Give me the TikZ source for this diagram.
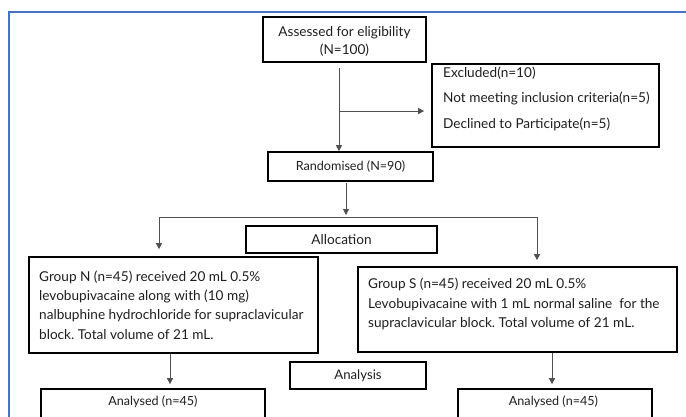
\documentclass[tikz,border=0pt]{standalone}
\usepackage{fontspec}
\setmainfont{Lato}
\frenchspacing
\usetikzlibrary{arrows.meta}
\definecolor{frameblue}{RGB}{68,114,196}
\definecolor{linegray}{RGB}{80,80,80}
\definecolor{textgray}{RGB}{30,30,30}
\begin{document}
\begin{tikzpicture}[x=1pt,y=-1pt,
  box/.style={draw=black, line width=1.7pt, rectangle, inner sep=0pt},
  txt/.style={font=\fontsize{13.6}{19.4}\selectfont, text=textgray, inner sep=0pt},
  stxt/.style={font=\fontsize{12.6}{16}\selectfont, text=textgray, inner sep=0pt},
  conn/.style={draw=linegray, line width=0.8pt},
  arr/.style={conn, -{Triangle[length=6pt,width=6pt]}},
]
\useasboundingbox (0,0) rectangle (686,416);
\clip (0,0) rectangle (686,416);

% frame
\draw[frameblue, line width=1.5pt] (9,440) -- (9,12) -- (700,12);

% boxes
\node[box, minimum width=163pt, minimum height=45pt] (assess) at (344.5,39.5) {};
\node[txt, align=center, font=\fontsize{13.6}{18}\selectfont] (assesst) at (344.5,41) {Assessed for eligibility\\(N=100)};

\node[box, minimum width=227pt, minimum height=83pt] (excl) at (545.5,105.5) {};
\node[txt, align=left, anchor=west, font=\fontsize{13.6}{25.5}\selectfont] (exclt) at (443,98.5) {Excluded(n=10)\\Not meeting inclusion criteria(n=5)\\Declined to Participate(n=5)};

\node[box, stxt, minimum width=165pt, minimum height=29pt] (rand) at (350.5,166.5) {Randomised (N=90)};

\node[box, txt, minimum width=191pt, minimum height=27pt] (alloc) at (341.5,239.5) {Allocation};

\node[box, minimum width=289pt, minimum height=96pt] (grpn) at (173.5,305) {};
\node[txt, align=left, anchor=west] (grpnt) at (39,305) {Group N (n=45) received 20 mL 0.5\%\\levobupivacaine along with (10 mg)\\nalbuphine hydrochloride for supraclavicular\\block. Total volume of 21 mL.};

\node[box, minimum width=319pt, minimum height=85pt] (grps) at (517.5,309.5) {};
\node[txt, align=left, anchor=west] (grpst) at (368,304) {Group S (n=45) received 20 mL 0.5\%\\Levobupivacaine with 1 mL normal saline\ \ for the\\supraclavicular block. Total volume of 21 mL.};

\node[box, txt, font=\fontsize{13.2}{16}\selectfont, minimum width=136pt, minimum height=27pt] (anal) at (358,375.5) {Analysis};

\node[box, minimum width=224pt, minimum height=51pt] (anl) at (153,414.5) {};
\node[stxt] (anlt) at (153,402) {Analysed (n=45)};
\node[box, minimum width=194pt, minimum height=51pt] (anr) at (555,414.5) {};
\node[stxt] (anrt) at (553.5,402) {Analysed (n=45)};

% connectors
\coordinate (c1) at (339,68);
\coordinate (c2) at (339,111);
\draw[arr] (c1) -- (c1 |- rand.north);
\draw[arr, shorten >=7pt] (c2) -- (c2 -| excl.west);

\coordinate (c3) at (346,183);
\coordinate (c4) at (346,215);
\draw[arr] (c3) -- (c4);

\coordinate (bl) at (159,217);
\coordinate (br) at (537,217);
\draw[conn] (bl) -- (br);
\draw[arr, shorten >=7pt] (bl) -- (bl |- grpn.north);
\draw[arr, shorten >=6pt] (br) -- (br |- grps.north);

\coordinate (d1) at (170,353);
\coordinate (d2) at (552,353);
\draw[arr, shorten >=4pt] (d1 |- grpn.south) -- (d1 |- anl.north);
\draw[arr, shorten >=4pt] (d2 |- grps.south) -- (d2 |- anr.north);
\end{tikzpicture}
\end{document}
